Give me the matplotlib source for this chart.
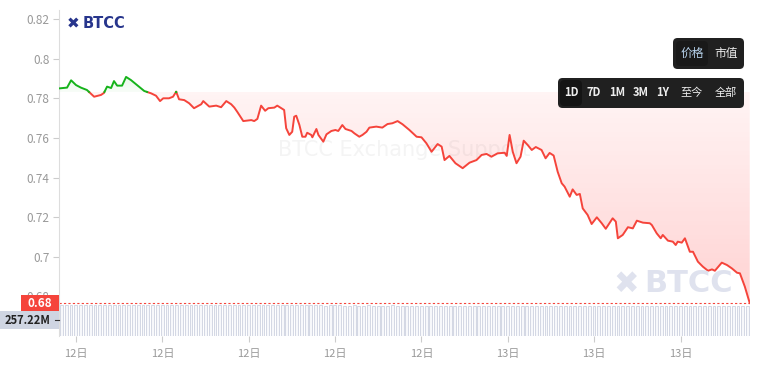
import numpy as np
import matplotlib
matplotlib.use('Agg')
import matplotlib.pyplot as plt
import matplotlib.transforms as mtransforms
from matplotlib.patches import Rectangle, FancyBboxPatch
from matplotlib.path import Path

plt.rcParams['font.family'] = ['Noto Sans CJK SC', 'DejaVu Sans']

# Données (heures depuis 12日 00:00, prix)
time_h = [8.41, 8.69, 8.83, 9.00, 9.17, 9.38, 9.63, 9.87, 9.97, 10.08,
          10.22, 10.32, 10.43, 10.60, 10.74, 10.91, 11.12, 11.37, 11.61, 11.78,
          11.92, 12.03, 12.23, 12.37, 12.48, 12.58, 12.76, 12.93, 13.10, 13.35,
          13.42, 13.63, 13.87, 14.04, 14.22, 14.39, 14.50, 14.60, 14.81, 15.09,
          15.19, 15.30, 15.43, 15.57, 15.68, 15.89, 15.99, 16.23, 16.30, 16.41,
          16.51, 16.58, 16.65, 16.76, 16.86, 16.97, 17.03, 17.17, 17.21, 17.35,
          17.42, 17.59, 17.70, 17.87, 18.01, 18.11, 18.25, 18.36, 18.57, 18.67,
          18.84, 18.95, 19.09, 19.19, 19.43, 19.64, 19.82, 19.99, 20.17, 20.34,
          20.58, 20.83, 21.00, 21.17, 21.35, 21.56, 21.70, 21.80, 21.97, 22.18,
          22.43, 22.67, 22.91, 23.09, 23.26, 23.43, 23.64, 23.89, 23.96, 24.06,
          24.17, 24.30, 24.44, 24.55, 24.69, 24.83, 24.97, 25.17, 25.31, 25.45,
          25.59, 25.73, 25.87, 25.97, 26.15, 26.25, 26.39, 26.50, 26.60, 26.77,
          26.91, 27.09, 27.26, 27.40, 27.64, 27.75, 27.82, 27.99, 28.17, 28.34,
          28.48, 28.69, 28.93, 29.00, 29.17, 29.31, 29.38, 29.56, 29.73, 29.83,
          29.90, 30.04, 30.15, 30.32, 30.43, 30.60, 30.77, 30.95, 31.09, 31.19,
          31.43, 31.61, 31.78, 31.96, 32.06, 32.23, 32.40]
price = [0.7850, 0.7854, 0.7891, 0.7867, 0.7854, 0.7842, 0.7808, 0.7817, 0.7827, 0.7859,
         0.7852, 0.7887, 0.7864, 0.7864, 0.7908, 0.7892, 0.7867, 0.7837, 0.7825, 0.7813,
         0.7786, 0.7800, 0.7800, 0.7808, 0.7833, 0.7795, 0.7791, 0.7775, 0.7750, 0.7770,
         0.7786, 0.7758, 0.7763, 0.7755, 0.7786, 0.7770, 0.7753, 0.7732, 0.7685, 0.7690,
         0.7685, 0.7696, 0.7763, 0.7737, 0.7750, 0.7753, 0.7763, 0.7741, 0.7649, 0.7615,
         0.7631, 0.7707, 0.7712, 0.7665, 0.7606, 0.7606, 0.7626, 0.7615, 0.7603, 0.7645,
         0.7615, 0.7581, 0.7618, 0.7635, 0.7640, 0.7635, 0.7665, 0.7645, 0.7635, 0.7623,
         0.7606, 0.7615, 0.7631, 0.7652, 0.7657, 0.7652, 0.7670, 0.7674, 0.7685, 0.7669,
         0.7640, 0.7606, 0.7603, 0.7573, 0.7530, 0.7569, 0.7556, 0.7488, 0.7509, 0.7472,
         0.7447, 0.7475, 0.7488, 0.7514, 0.7519, 0.7505, 0.7522, 0.7525, 0.7509, 0.7615,
         0.7530, 0.7472, 0.7505, 0.7586, 0.7564, 0.7539, 0.7554, 0.7539, 0.7497, 0.7524,
         0.7511, 0.7429, 0.7371, 0.7354, 0.7303, 0.7340, 0.7312, 0.7317, 0.7244, 0.7211,
         0.7165, 0.7199, 0.7169, 0.7141, 0.7194, 0.7177, 0.7093, 0.7110, 0.7149, 0.7143,
         0.7182, 0.7172, 0.7169, 0.7160, 0.7118, 0.7093, 0.7110, 0.7081, 0.7076, 0.7059,
         0.7076, 0.7071, 0.7093, 0.7025, 0.7025, 0.6975, 0.6950, 0.6929, 0.6936, 0.6929,
         0.6970, 0.6958, 0.6941, 0.6919, 0.6916, 0.6849, 0.6766]
base_price = 0.7832

# Volume (millions), une barre par 10 minutes
volume_m = [262, 261, 262, 262, 261, 262, 262, 261, 262, 262, 262, 261,
            261, 262, 260, 261, 262, 261, 260, 261, 261, 262, 261, 260,
            260, 261, 260, 260, 261, 260, 259, 260, 260, 261, 260, 259,
            259, 260, 259, 259, 260, 259, 258, 259, 259, 260, 259, 258,
            258, 259, 258, 258, 259, 258, 258, 257, 258, 259, 258, 257,
            257, 258, 257, 257, 258, 257, 257, 256, 257, 258, 257, 256,
            256, 257, 256, 256, 257, 256, 256, 255, 256, 257, 256, 255,
            256, 255, 256, 256, 255, 256, 255, 255, 256, 255, 256, 255,
            255, 256, 255, 255, 254, 255, 255, 256, 255, 254, 255, 255,
            254, 255, 254, 255, 255, 254, 255, 254, 254, 255, 254, 255,
            255, 254, 255, 254, 254, 255, 254, 255, 254, 254, 255, 254,
            254, 255, 254, 254, 255, 254, 255, 254, 255, 256, 256, 257]
vol_start = 8.41
vol_step = 1 / 6

y_ticks = [0.68, 0.7, 0.72, 0.74, 0.76, 0.78, 0.8, 0.82]
y_labels = ['0.68', '0.7', '0.72', '0.74', '0.76', '0.78', '0.8', '0.82']
x_ticks = [9, 12, 15, 18, 21, 24, 27, 30]
x_labels = ['12日', '12日', '12日', '12日', '12日', '13日', '13日', '13日']

RED = '#f5443b'
GREEN = '#16b31b'

t = np.array(time_h)
p = np.array(price)

fig = plt.figure(figsize=(7.61, 3.68), dpi=100)
W, H = 761, 368
ax = fig.add_axes([59 / W, 32 / H, 691 / W, 326 / H])
ax.set_xlim(8.41, 32.41)
ax.set_ylim(0.65995, 0.8246)

# volume sur un axe jumeau
axv = ax.twinx()
axv.set_ylim(0, 262 / (31 / 326))
vt = vol_start + (np.arange(len(volume_m)) + 0.5) * vol_step
axv.bar(vt, volume_m, width=vol_step * 0.6, color='#f7f8fb',
        edgecolor='#cdd2e0', linewidth=0.6)
axv.set_yticks([])
for s in axv.spines.values():
    s.set_visible(False)
ax.set_zorder(axv.get_zorder() + 1)
ax.patch.set_visible(False)

# remplissages en dégradé (a0 en y0, a1 en y1)
def gradient_fill(where, y0, y1, a0, a1, rgb):
    poly = ax.fill_between(t, p, base_price, where=where, interpolate=True,
                           facecolor='none', edgecolor='none')
    paths = poly.get_paths()
    if not paths:
        return
    n = 256
    alpha = np.linspace(a0, a1, n)[:, None]
    img = np.zeros((n, 2, 4))
    img[..., 0], img[..., 1], img[..., 2] = rgb
    img[..., 3] = alpha
    im = ax.imshow(img, aspect='auto', extent=[t[0], t[-1], y0, y1],
                   origin='lower', zorder=1, interpolation='bilinear')
    im.set_clip_path(Path.make_compound_path(*paths), transform=ax.transData)

gradient_fill(p <= base_price, 0.675, base_price, 0.24, 0.06, (1.0, 0.27, 0.27))
gradient_fill(p >= base_price, base_price, 0.792, 0.03, 0.10, (0.1, 0.75, 0.1))
ax.set_xlim(8.41, 32.41)
ax.set_ylim(0.65995, 0.8246)

# ligne en deux couleurs selon la base
tt, pp = [t[0]], [p[0]]
for i in range(1, len(t)):
    a, b = p[i - 1] - base_price, p[i] - base_price
    if a * b < 0:
        f = a / (a - b)
        tt.append(t[i - 1] + f * (t[i] - t[i - 1]))
        pp.append(base_price)
    tt.append(t[i])
    pp.append(p[i])
tt, pp = np.array(tt), np.array(pp)
ax.plot(tt, np.ma.masked_where(pp > base_price, pp), color=RED, lw=1.4, zorder=3)
ax.plot(tt, np.ma.masked_where(pp < base_price, pp), color=GREEN, lw=1.4, zorder=3)

# dernier prix
last = p[-1]
ax.axhline(last, color=RED, lw=0.8, dashes=(2, 2), zorder=2)
btr = mtransforms.blended_transform_factory(ax.transAxes, ax.transData)
ax.add_patch(Rectangle((-38 / 691, last - 0.0043), 38 / 691, 0.0086, transform=btr,
                       facecolor='#f5443b', edgecolor='none', clip_on=False, zorder=5))
ax.text(-19 / 691, last, '0.68', transform=btr, ha='center', va='center',
        color='white', fontsize=8.5, fontweight='bold', zorder=6)

# étiquette volume
fig.patches.append(Rectangle((0, 1 - 329 / H), 59 / W, 18 / H, transform=fig.transFigure,
                             facecolor='#cfd5e2', edgecolor='none'))
fig.text(28 / W, 1 - 320 / H, '257.22M', ha='center', va='center', fontsize=8,
         color='#222222', fontweight='bold')
fig.lines.append(plt.Line2D([55 / W, 59 / W], [1 - 320 / H] * 2, transform=fig.transFigure,
                            color='#333333', lw=0.8))

# axes
ax.set_yticks(y_ticks)
ax.set_yticklabels(y_labels)
ax.set_xticks(x_ticks)
ax.set_xticklabels(x_labels)
ax.tick_params(axis='y', colors='#cccccc', labelcolor='#999999', labelsize=8.5,
               length=4, width=0.8, pad=3)
ax.tick_params(axis='x', colors='#cccccc', labelcolor='#999999', labelsize=8,
               length=4, width=0.8, pad=5)
for side in ['top', 'right', 'bottom']:
    ax.spines[side].set_visible(False)
ax.spines['left'].set_color('#dddddd')

# filigranes
ax.text(0.5, 0.57, 'BTCC Exchange Support', transform=ax.transAxes, ha='center',
        va='center', fontsize=15, color='#f4f4f4', family='DejaVu Sans', zorder=0)
fig.text(626 / W, 1 - 284 / H, '✖', ha='center', va='center', fontsize=22,
         color='#dfe2ee', family='DejaVu Sans')
fig.text(644 / W, 1 - 284 / H, 'BTCC', ha='left', va='center', fontsize=22,
         fontweight='bold', color='#dfe2ee', family='DejaVu Sans')

# logo
fig.text(73 / W, 1 - 24 / H, '✖', ha='center', va='center', fontsize=11,
         color='#27358c', family='DejaVu Sans')
fig.text(83 / W, 1 - 24 / H, 'BTCC', ha='left', va='center', fontsize=10.5,
         fontweight='bold', color='#27358c', family='DejaVu Sans')

# boutons
def box(x0, y0, x1, y1, color):
    fig.patches.append(FancyBboxPatch((x0 / W, 1 - y1 / H), (x1 - x0) / W, (y1 - y0) / H,
                                      boxstyle='round,pad=0,rounding_size=0.006',
                                      transform=fig.transFigure, facecolor=color,
                                      edgecolor='none', mutation_aspect=W / H))

box(673, 38, 744, 69, '#202020')
box(676, 41, 708, 66, '#191919')
fig.text(692 / W, 1 - 53 / H, '价格', ha='center', va='center', fontsize=8.5, color='#b8d4ee')
fig.text(726 / W, 1 - 53 / H, '市值', ha='center', va='center', fontsize=8.5, color='#eeeeee')

box(558, 78, 744, 108, '#202020')
box(560, 80, 582, 106, '#141414')
for lab, xc in zip(['1D', '7D', '1M', '3M', '1Y', '至今', '全部'],
                   [571, 594, 617, 641, 663, 692, 726]):
    fig.text(xc / W, 1 - 93 / H, lab, ha='center', va='center', fontsize=8,
             color='#eeeeee', fontweight='bold' if lab[0].isdigit() else 'normal')

fig.savefig('out.png', dpi=100)
